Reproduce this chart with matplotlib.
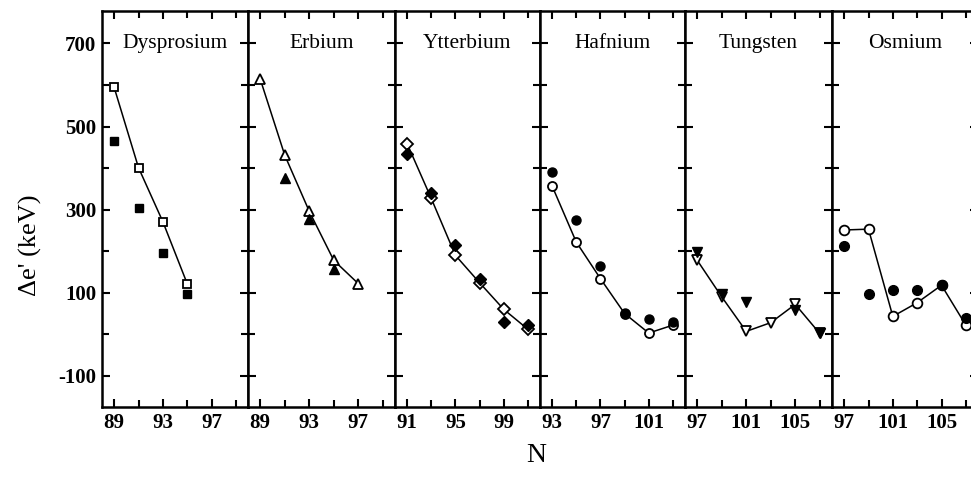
import matplotlib
matplotlib.use("Agg")
import matplotlib.pyplot as plt
from matplotlib.ticker import MultipleLocator, FixedLocator

plt.rcParams['font.family'] = ['Liberation Serif', 'DejaVu Serif']
plt.rcParams['axes.unicode_minus'] = False

# ---- data ----
elements = ["Dysprosium", "Erbium", "Ytterbium", "Hafnium", "Tungsten", "Osmium"]

dy_n_open = [89, 91, 93, 95]
dy_open = [594, 401, 271, 122]
dy_n_fill = [89, 91, 93, 95]
dy_fill = [464, 304, 196, 98]

er_n_open = [89, 91, 93, 95, 97]
er_open = [614, 431, 296, 178, 122]
er_n_fill = [91, 93, 95]
er_fill = [375, 277, 156]

yb_n_open = [91, 93, 95, 97, 99, 101]
yb_open = [459, 327, 190, 124, 60, 12]
yb_n_fill = [91, 93, 95, 97, 99, 101]
yb_fill = [435, 339, 214, 134, 30, 22]

hf_n_open = [93, 95, 97, 99, 101, 103]
hf_open = [357, 222, 134, 50, 3, 22]
hf_n_fill = [93, 95, 97, 99, 101, 103]
hf_fill = [391, 276, 165, 52, 36, 30]

w_n_open = [97, 99, 101, 103, 105, 107]
w_open = [178, 90, 7, 28, 72, 2]
w_n_fill = [97, 99, 101, 105, 107]
w_fill = [198, 96, 78, 58, 2]

os_n_open = [97, 99, 101, 103, 105, 107]
os_open = [251, 253, 43, 76, 118, 22]
os_n_fill = [97, 99, 101, 103, 105, 107]
os_fill = [212, 98, 106, 106, 118, 38]

xlims = [(88, 100), (88, 100), (90, 102), (92, 104), (96, 108), (96, 108)]
xlabels = [[89, 93, 97], [89, 93, 97], [91, 95, 99], [93, 97, 101], [97, 101, 105], [97, 101, 105]]
markers = ['s', '^', 'D', 'o', 'v', 'o']
msizes = [6, 7, 6, 6.5, 7, 7]

series = [
    (dy_n_open, dy_open, dy_n_fill, dy_fill),
    (er_n_open, er_open, er_n_fill, er_fill),
    (yb_n_open, yb_open, yb_n_fill, yb_fill),
    (hf_n_open, hf_open, hf_n_fill, hf_fill),
    (w_n_open, w_open, w_n_fill, w_fill),
    (os_n_open, os_open, os_n_fill, os_fill),
]

ytick_labels = [-100, 100, 300, 500, 700]
ylim = (-175, 778)

# ---- figure ----
W, H = 971, 486
fig = plt.figure(figsize=(W / 100, H / 100), dpi=100)
lefts = [102, 248, 395, 540, 685, 832, 978]
top_px, bot_px = 11, 407

for i, name in enumerate(elements):
    l = lefts[i]
    w = lefts[i + 1] - l
    ax = fig.add_axes([l / W, 1 - bot_px / H, w / W, (bot_px - top_px) / H])
    no, vo, nf, vf = series[i]
    m = markers[i]
    ms = msizes[i]
    ax.plot(no, vo, color='black', lw=1.1, zorder=2)
    ax.plot(no, vo, linestyle='none', marker=m, ms=ms, mfc='white', mec='black', mew=1.3, zorder=3)
    ax.plot(nf, vf, linestyle='none', marker=m, ms=ms, mfc='black', mec='black', zorder=4)
    ax.set_xlim(*xlims[i])
    ax.set_ylim(*ylim)
    ax.xaxis.set_major_locator(FixedLocator(xlabels[i]))
    ax.xaxis.set_minor_locator(MultipleLocator(2, offset=xlabels[i][0] % 2))
    ax.yaxis.set_major_locator(FixedLocator(ytick_labels))
    ax.yaxis.set_minor_locator(MultipleLocator(100))
    ax.tick_params(which='both', direction='in', top=True, right=True, width=1.5)
    ax.tick_params(which='major', length=6)
    ax.tick_params(which='minor', length=5)
    ax.tick_params(axis='x', labelsize=15, pad=4)
    ax.tick_params(axis='y', labelsize=15, pad=4)
    for lab in ax.get_xticklabels() + ax.get_yticklabels():
        lab.set_fontweight('bold')
    for sp in ax.spines.values():
        sp.set_linewidth(1.8)
    if i > 0:
        ax.set_yticklabels([])
    ax.text(0.5, 700, name, transform=ax.get_yaxis_transform(), ha='center', va='center', fontsize=15.5)

fig.text(536 / W, 1 - 455 / H, "N", ha='center', va='center', fontsize=20)
fig.text(30 / W, 1 - 245 / H, "Δe' (keV)", ha='center', va='center', rotation=90, fontsize=19)

fig.savefig("out.png", dpi=100)
